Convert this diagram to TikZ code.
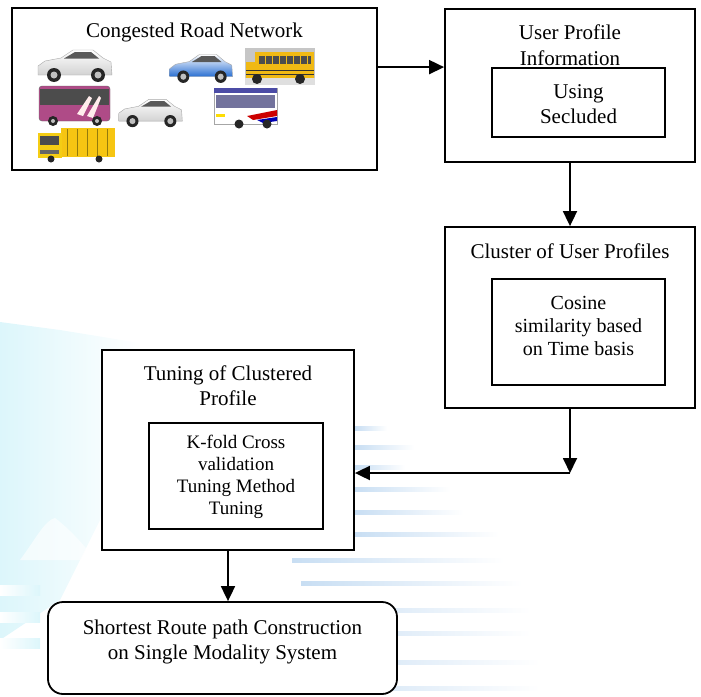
\documentclass[tikz,border=0pt]{standalone}
\usepackage{fontspec}
\setmainfont{Liberation Serif}
\usetikzlibrary{arrows.meta}
\definecolor{wmcyan}{RGB}{220,246,251}
\definecolor{wmblue}{RGB}{200,222,243}
\definecolor{busyel}{RGB}{240,185,20}
\definecolor{trkyel}{RGB}{245,205,20}
\definecolor{coach}{RGB}{175,75,135}
\definecolor{carblue}{RGB}{40,110,210}
\newcommand\mycar[5]{%
 \begin{scope}[shift={(#1,#2)},xscale=#3,yscale=#4]
  \path[draw=gray!70,line width=0.4pt,top color=white,bottom color=#5]
   (2,30) -- (2,21) -- (9,16) -- (25,13) -- (37,5) -- (57,5) -- (67,13) -- (75,17) -- (76,30) -- cycle;
  \fill[black!65] (28,13.5) -- (39,7) -- (55,7) -- (63,13.5) -- cycle;
  \fill[black!85] (18,30) circle (7) (62,30) circle (7);
  \fill[gray!50] (18,30) circle (3.5) (62,30) circle (3.5);
 \end{scope}}
\begin{document}
\begin{tikzpicture}[x=1pt,y=-1pt,
  box/.style={draw, line width=1.8pt, fill=white, inner sep=0pt},
  ttl/.style={font=\fontsize{21}{25.5}\selectfont, align=center, inner sep=0pt},
  sml/.style={font=\fontsize{19}{22}\selectfont, align=center, inner sep=0pt},
  mid/.style={font=\fontsize{20}{23}\selectfont, align=center, inner sep=0pt},
  arr/.style={line width=1.8pt, -{Triangle[length=15pt,width=14pt]}},
]
\useasboundingbox (0,0) rectangle (701,696);
% ---- faint background watermark ----
\shade[left color=wmcyan, right color=white]
  (0,322) -- (60,330) -- (140,343) -- (120,420) -- (100,520) -- (60,600) -- (0,640) -- cycle;
\fill[white, opacity=0.6] (20,560) .. controls (35,540) and (45,520) .. (55,518) .. controls (65,525) and (85,545) .. (95,560) -- cycle;
\foreach \yy in {585,612,638}{
  \shade[left color=white, right color=wmcyan] (0,\yy) rectangle (40,\yy+10);}
\foreach \yy/\xa/\xb in {428/355/387, 447/355/414, 467/355/405, 489/355/450,
   512/355/463, 534/355/499, 560/292/504, 583/301/522, 610/292/531,
   633/292/531, 662/292/540, 688/292/540}{
  \shade[left color=wmblue, right color=white] (\xa,\yy-2) rectangle (\xb,\yy+2);}
% ---- boxes ----
\node[box, minimum width=365pt, minimum height=162pt] (net) at (194.5,89) {};
\node[ttl] (nett) at (194.5,32) {Congested Road Network};
\node[box, minimum width=250pt, minimum height=153pt] (upi) at (570,85.5) {};
\node[ttl] (upit) at (570,45) {User Profile\\Information};
\node[box, minimum width=173pt, minimum height=69pt] (sec) at (578.5,102.5) {};
\node[ttl] (sect) at (578.5,104) {Using\\Secluded};
\node[box, minimum width=250pt, minimum height=181pt] (cup) at (570,317.5) {};
\node[ttl] (cupt) at (570,251) {Cluster of User Profiles};
\node[box, minimum width=173pt, minimum height=106pt] (cos) at (578.5,332) {};
\node[mid] (cost) at (578.5,326) {Cosine\\similarity based\\on Time basis};
\node[box, minimum width=252pt, minimum height=200pt] (tcp) at (228,450) {};
\node[ttl] (tcpt) at (228,385.5) {Tuning of Clustered\\Profile};
\node[box, minimum width=174pt, minimum height=106pt] (kf) at (236,476) {};
\node[sml] (kft) at (236,477) {K-fold Cross\\validation\\Tuning Method\\Tuning};
\node[box, rounded corners=15pt, minimum width=349pt, minimum height=92pt] (srp) at (222.5,648) {};
\node[ttl] (srpt) at (222.5,642) {Shortest Route path Construction\\on Single Modality System};
% ---- connectors ----
\coordinate (j) at (572,473);
\draw[arr] (net.east |- sec.north) -- (upi.west |- sec.north);
\draw[arr] (upi.south) -- (cup.north);
\draw[arr] (cup.south) -- (cup.south |- j);
\draw[arr] (cup.south |- j) -- (tcp.east |- j);
\draw[arr] (tcp.south) -- (tcp.south |- srp.north);
% ---- vehicles ----
\mycar{36}{45}{1}{1}{gray!35}
\mycar{117}{95}{0.86}{0.87}{gray!35}
\mycar{168}{50}{0.85}{0.89}{carblue}
% school bus
\begin{scope}[shift={(245,48)}]
 \fill[gray!45] (0,0) rectangle (70,37);
 \fill[gray!25] (0,30) rectangle (70,37);
 \fill[busyel] (10,4) rectangle (69,30);
 \fill[busyel] (1,14) rectangle (11,30);
 \fill[black!70] (14,8) rectangle (66,16);
 \foreach \xx in {20,27,34,41,48,55,62}{\fill[busyel] (\xx,8) rectangle (\xx+1.2,16);}
 \draw[black!80,line width=0.8pt] (1,22) -- (69,22) (1,26) -- (69,26);
 \fill[black!85] (12,31) circle (5) (55,31) circle (5);
\end{scope}
% coach
\begin{scope}[shift={(37,84)}]
 \path[fill=coach, draw=black!60, rounded corners=3pt] (2,2) rectangle (73,37);
 \fill[black!70] (3,5) rectangle (72,21);
 \fill[white!70!pink] (40,30) -- (52,12) -- (55,14) -- (46,32) -- cycle;
 \fill[white!70!pink] (50,32) -- (62,12) -- (64,14) -- (56,34) -- cycle;
 \fill[black!85] (16,37) circle (5) (60,37) circle (5);
 \fill[gray!50] (16,37) circle (2) (60,37) circle (2);
\end{scope}
% city bus
\begin{scope}[shift={(213,86)}]
 \path[fill=white, draw=gray!70] (1,2) rectangle (64,38);
 \fill[blue!50!black!70] (1,2) rectangle (64,7);
 \fill[blue!30!black!55] (3,9) rectangle (62,22);
 \fill[red!80!black] (34,30) -- (64,24) -- (64,30) -- (40,34) -- cycle;
 \fill[blue!70!black] (44,34) -- (64,31) -- (64,35) -- (50,37) -- cycle;
 \fill[yellow!80!orange] (3,28) rectangle (12,31);
 \fill[black!85] (26,38) circle (4.5) (54,38) circle (4.5);
\end{scope}
% truck
\begin{scope}[shift={(37,128)}]
 \fill[trkyel!90!orange] (24,0) rectangle (78,29);
 \draw[trkyel!60!black, line width=0.3pt] (30,1) -- (30,28) (40,1) -- (40,28) (50,1) -- (50,28) (60,1) -- (60,28) (70,1) -- (70,28);
 \fill[trkyel] (1,5) rectangle (25,30);
 \fill[black!70] (3,8) rectangle (22,17);
 \fill[black!60] (3,22) rectangle (22,26);
 \fill[black!85] (14,31) circle (3.5) (62,31) circle (3.5);
\end{scope}
\end{tikzpicture}
\end{document}
